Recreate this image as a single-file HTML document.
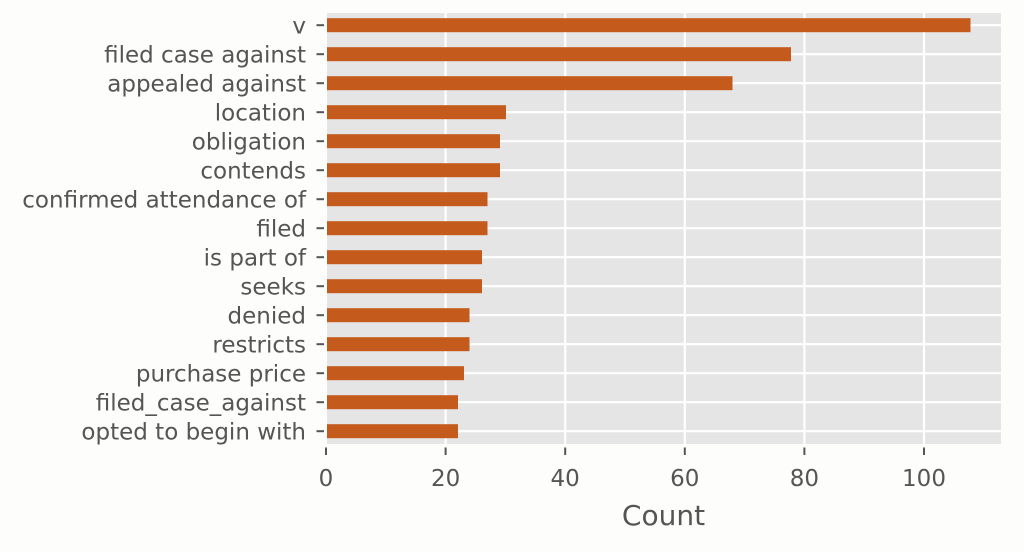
<!DOCTYPE html>
<html><head><meta charset="utf-8"><style>
html,body{margin:0;padding:0;background:#fdfdfc;}
svg{display:block;}
text{font-family:"DejaVu Sans","Liberation Sans",sans-serif;fill:#555555;}
</style></head><body>
<svg width="1024" height="552" viewBox="0 0 1024 552" xmlns="http://www.w3.org/2000/svg">
<rect x="0" y="0" width="1024" height="552" fill="#fdfdfc"/>
<rect x="327" y="13" width="674" height="431" fill="#e5e5e5"/>
<g stroke="#ffffff" stroke-width="2.2">
<line x1="445.6" y1="13" x2="445.6" y2="444"/>
<line x1="565.2" y1="13" x2="565.2" y2="444"/>
<line x1="684.8" y1="13" x2="684.8" y2="444"/>
<line x1="804.4" y1="13" x2="804.4" y2="444"/>
<line x1="924" y1="13" x2="924" y2="444"/>
<line x1="327" y1="25.2" x2="1001" y2="25.2"/>
<line x1="327" y1="54.2" x2="1001" y2="54.2"/>
<line x1="327" y1="83.2" x2="1001" y2="83.2"/>
<line x1="327" y1="112.2" x2="1001" y2="112.2"/>
<line x1="327" y1="141.2" x2="1001" y2="141.2"/>
<line x1="327" y1="170.2" x2="1001" y2="170.2"/>
<line x1="327" y1="199.2" x2="1001" y2="199.2"/>
<line x1="327" y1="228.2" x2="1001" y2="228.2"/>
<line x1="327" y1="257.2" x2="1001" y2="257.2"/>
<line x1="327" y1="286.2" x2="1001" y2="286.2"/>
<line x1="327" y1="315.2" x2="1001" y2="315.2"/>
<line x1="327" y1="344.2" x2="1001" y2="344.2"/>
<line x1="327" y1="373.2" x2="1001" y2="373.2"/>
<line x1="327" y1="402.2" x2="1001" y2="402.2"/>
<line x1="327" y1="431.2" x2="1001" y2="431.2"/>
</g>
<g fill="#c45a1c">
<rect x="327" y="18.2" width="643.5" height="14"/>
<rect x="327" y="47.2" width="464" height="14"/>
<rect x="327" y="76.2" width="405.5" height="14"/>
<rect x="327" y="105.2" width="179" height="14"/>
<rect x="327" y="134.2" width="173" height="14"/>
<rect x="327" y="163.2" width="173" height="14"/>
<rect x="327" y="192.2" width="160.5" height="14"/>
<rect x="327" y="221.2" width="160.5" height="14"/>
<rect x="327" y="250.2" width="155" height="14"/>
<rect x="327" y="279.2" width="155" height="14"/>
<rect x="327" y="308.2" width="142.5" height="14"/>
<rect x="327" y="337.2" width="142.5" height="14"/>
<rect x="327" y="366.2" width="137" height="14"/>
<rect x="327" y="395.2" width="131" height="14"/>
<rect x="327" y="424.2" width="131" height="14"/>
</g>
<g stroke="#555555" stroke-width="2">
<line x1="316.5" y1="25.2" x2="324" y2="25.2"/>
<line x1="316.5" y1="54.2" x2="324" y2="54.2"/>
<line x1="316.5" y1="83.2" x2="324" y2="83.2"/>
<line x1="316.5" y1="112.2" x2="324" y2="112.2"/>
<line x1="316.5" y1="141.2" x2="324" y2="141.2"/>
<line x1="316.5" y1="170.2" x2="324" y2="170.2"/>
<line x1="316.5" y1="199.2" x2="324" y2="199.2"/>
<line x1="316.5" y1="228.2" x2="324" y2="228.2"/>
<line x1="316.5" y1="257.2" x2="324" y2="257.2"/>
<line x1="316.5" y1="286.2" x2="324" y2="286.2"/>
<line x1="316.5" y1="315.2" x2="324" y2="315.2"/>
<line x1="316.5" y1="344.2" x2="324" y2="344.2"/>
<line x1="316.5" y1="373.2" x2="324" y2="373.2"/>
<line x1="316.5" y1="402.2" x2="324" y2="402.2"/>
<line x1="316.5" y1="431.2" x2="324" y2="431.2"/>
<line x1="326" y1="447.5" x2="326" y2="455"/>
<line x1="445.6" y1="447.5" x2="445.6" y2="455"/>
<line x1="565.2" y1="447.5" x2="565.2" y2="455"/>
<line x1="684.8" y1="447.5" x2="684.8" y2="455"/>
<line x1="804.4" y1="447.5" x2="804.4" y2="455"/>
<line x1="924" y1="447.5" x2="924" y2="455"/>
</g>
<g font-size="23" text-anchor="end">
<text x="306" y="33.5">v</text>
<text x="306" y="62.5">filed case against</text>
<text x="306" y="91.5">appealed against</text>
<text x="306" y="120.5">location</text>
<text x="306" y="149.5">obligation</text>
<text x="306" y="178.5">contends</text>
<text x="306" y="207.5">confirmed attendance of</text>
<text x="306" y="236.5">filed</text>
<text x="306" y="265.5">is part of</text>
<text x="306" y="294.5">seeks</text>
<text x="306" y="323.5">denied</text>
<text x="306" y="352.5">restricts</text>
<text x="306" y="381.5">purchase price</text>
<text x="306" y="410.5">filed_case_against</text>
<text x="306" y="439.5">opted to begin with</text>
</g>
<g font-size="23" text-anchor="middle">
<text x="326" y="486">0</text>
<text x="445.6" y="486">20</text>
<text x="565.2" y="486">40</text>
<text x="684.8" y="486">60</text>
<text x="804.4" y="486">80</text>
<text x="924" y="486">100</text>
</g>
<text x="663.5" y="525" font-size="28" text-anchor="middle">Count</text>
</svg>
</body></html>
